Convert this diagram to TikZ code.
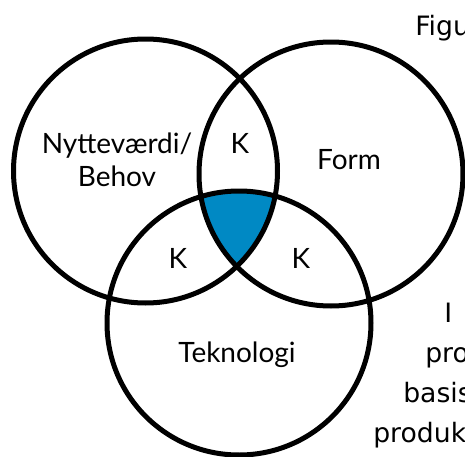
\documentclass[tikz,border=0pt]{standalone}
\usepackage{fontspec}
\setmainfont{Lato}
\newfontfamily\sidefont{DejaVu Sans}
\definecolor{venblue}{RGB}{0,137,196}
\begin{document}
\begin{tikzpicture}[x=0.75pt,y=-0.75pt,
  ring/.style={draw=black,line width=3.75pt},
  lbl/.style={font=\fontsize{21pt}{25pt}\selectfont,inner sep=0pt,align=center},
  side/.style={font=\sidefont\fontsize{20pt}{24pt}\selectfont,inner sep=0pt,anchor=base west}]
\useasboundingbox (0,0) rectangle (465,457);
\clip (0,0) rectangle (465,457);
\coordinate (A) at (145.5,171);
\coordinate (B) at (331,174);
\coordinate (C) at (239,323);
\begin{scope}
  \clip (A) circle [radius=132];
  \clip (B) circle [radius=132];
  \fill[venblue] (C) circle [radius=132];
\end{scope}
\draw[ring] (A) circle [radius=132];
\draw[ring] (B) circle [radius=132];
\draw[ring] (C) circle [radius=132];
\node[lbl] (nb) at (117,160) {Nytteværdi/\\Behov};
\node[lbl] (k1) at (240,143) {K};
\node[lbl] (fm) at (349,160) {Form};
\node[lbl] (k2) at (178,258) {K};
\node[lbl] (k3) at (301,258) {K};
\node[lbl,anchor=base] (tk) at (237,362) {Teknologi};
\node[side] (s1) at (415,35) {Figu};
\node[side] (s2) at (444,322) {I};
\node[side] (s3) at (425,362) {pro};
\node[side] (s4) at (403,402) {basis};
\node[side] (s5) at (373,442) {produk};
\end{tikzpicture}
\end{document}
